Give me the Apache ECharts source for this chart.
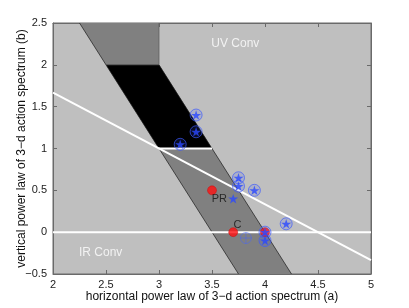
<!DOCTYPE html>
<html>
<head>
<meta charset="utf-8">
<script src="https://cdn.jsdelivr.net/npm/echarts@6/dist/echarts.min.js"></script>
<style>html,body{margin:0;padding:0;background:#fff}#c{width:409px;height:308px}</style>
</head>
<body>
<div id="c"></div>
<script>
// ---- data ----
const xTicks = [2, 2.5, 3, 3.5, 4, 4.5, 5];
const yTicks = [-0.5, 0, 0.5, 1, 1.5, 2, 2.5];
const bandPoly = [[2.25, 2.5], [3, 2.5], [3, 2], [4.25, -0.5], [3.75, -0.5]];
const blackPoly = [[2.5, 2], [3, 2], [3.5, 1], [3, 1]];
const bandLeftEdge = [[2.25, 2.5], [3.75, -0.5]];
const bandRightEdge = [[3, 2], [4.25, -0.5]];
const bandTopEdge = [[3, 2.5], [3, 2], [2.5, 2]];
const zeroLine = [[2, 0], [5, 0]];
const oneLine = [[3, 1], [3.5, 1]];
const diagLine = [[2, 1.6667], [5, -0.3333]];
const circledStars = [[3.35, 1.4], [3.35, 1.2], [3.2, 1.05], [3.75, 0.65], [3.75, 0.55], [3.9, 0.5], [4.2, 0.1], [4.0, 0.0], [4.0, -0.1]];
const plainStars = [[3.7, 0.4]];
const crossCircles = [[3.82, -0.07]];
const redDots = [[3.5, 0.5], [3.7, 0.0], [4.0, 0.0]];
const textLabels = [
  {name: 'UV Conv', pos: [3.72, 2.25], color: '#ffffff', size: 12},
  {name: 'IR Conv', pos: [2.45, -0.245], color: '#ffffff', size: 12},
  {name: 'PR', pos: [3.57, 0.40], color: '#111111', size: 11},
  {name: 'C', pos: [3.74, 0.09], color: '#111111', size: 11}
];

const STAR = 'path://M100,0 L122.45,69.1 L195.1,69.1 L136.3,111.8 L158.8,180.9 L100,138.2 L41.2,180.9 L63.7,111.8 L4.9,69.1 L77.55,69.1 Z';
const CROSSC = 'path://M0,50 A50,50 0 1 1 100,50 A50,50 0 1 1 0,50 Z M50,0 L50,100 M0,50 L100,50';
const FONT = '"Liberation Sans", Arial, sans-serif';
const minus = v => String(v).replace('-', '\u2212');

function polySeries(points, color, z) {
  return {
    type: 'custom', silent: true, z: z, data: [[points[0][0], points[0][1]]],
    renderItem: (params, api) => ({
      type: 'polygon',
      shape: {points: points.map(p => api.coord(p))},
      style: {fill: color, stroke: null}
    })
  };
}
function lineSeries(points, color, width, z) {
  return {type: 'line', data: points, symbol: 'none', silent: true, z: z,
    lineStyle: {color: color, width: width}, animation: false};
}

const frameColor = '#6a6a6a';
const axisCommon = {
  type: 'value', splitLine: {show: false},
  axisLine: {show: true, onZero: false, lineStyle: {color: frameColor, width: 1}},
  axisTick: {show: true, inside: true, length: 4, lineStyle: {color: frameColor}}
};

const chart = echarts.init(document.getElementById('c'));
chart.setOption({
  animation: false,
  grid: {left: 53, right: 38, top: 23, bottom: 34, containLabel: false, outerBoundsMode: 'none',
    show: true, backgroundColor: '#bfbfbf', borderColor: frameColor, borderWidth: 1},
  xAxis: [
    Object.assign({}, axisCommon, {min: 2, max: 5, interval: 0.5, position: 'bottom',
      name: 'horizontal power law of 3\u2212d action spectrum (a)', nameLocation: 'middle', nameGap: 17,
      nameMoveOverlap: false,
      nameTextStyle: {fontFamily: FONT, fontSize: 12, color: '#111'},
      axisLabel: {fontFamily: FONT, fontSize: 11, color: '#222', margin: 5, formatter: minus}}),
    Object.assign({}, axisCommon, {min: 2, max: 5, interval: 0.5, position: 'top', axisLabel: {show: false}})
  ],
  yAxis: [
    Object.assign({}, axisCommon, {min: -0.5, max: 2.5, interval: 0.5, position: 'left',
      name: 'vertical power law of 3\u2212d action spectrum (b)', nameLocation: 'middle', nameGap: 25,
      nameMoveOverlap: false,
      nameTextStyle: {fontFamily: FONT, fontSize: 12, color: '#111'},
      axisLabel: {fontFamily: FONT, fontSize: 11, color: '#222', margin: 6, formatter: minus}}),
    Object.assign({}, axisCommon, {min: -0.5, max: 2.5, interval: 0.5, position: 'right', axisLabel: {show: false}})
  ],
  series: [
    polySeries(bandPoly, '#808080', 1),
    polySeries(blackPoly, '#000000', 2),
    lineSeries(bandLeftEdge, '#1a1a1a', 0.7, 3),
    lineSeries(bandRightEdge, '#1a1a1a', 0.7, 3),
    lineSeries(bandTopEdge, '#5a5a5a', 0.7, 3),
    lineSeries(zeroLine, '#ffffff', 2, 4),
    lineSeries(oneLine, '#ffffff', 2, 4),
    lineSeries(diagLine, '#ffffff', 2, 4),
    {type: 'scatter', data: redDots, symbol: 'circle', symbolSize: 9, z: 5, silent: true,
      itemStyle: {color: '#ff1010', borderColor: '#cc0000', borderWidth: 0.5}},
    {type: 'scatter', data: circledStars, symbol: 'circle', symbolSize: 12, z: 6, silent: true,
      itemStyle: {color: 'rgba(60,90,255,0.18)', borderColor: 'rgba(60,90,255,0.85)', borderWidth: 1}},
    {type: 'scatter', data: crossCircles, symbol: CROSSC, symbolSize: 11, z: 6, silent: true,
      itemStyle: {color: 'none', borderColor: 'rgba(70,100,255,0.8)', borderWidth: 0.8}},
    {type: 'scatter', data: circledStars.concat(plainStars), symbol: STAR, symbolSize: [10, 9.5], z: 7, silent: true,
      itemStyle: {color: '#2a48ff'}},
    {type: 'scatter', data: textLabels.map(t => ({value: t.pos, name: t.name,
        label: {show: true, position: 'inside', formatter: t.name, color: t.color, fontSize: t.size, fontFamily: FONT}})),
      symbolSize: 1, itemStyle: {color: 'rgba(0,0,0,0)'}, z: 8, silent: true}
  ]
});
</script>
</body>
</html>
